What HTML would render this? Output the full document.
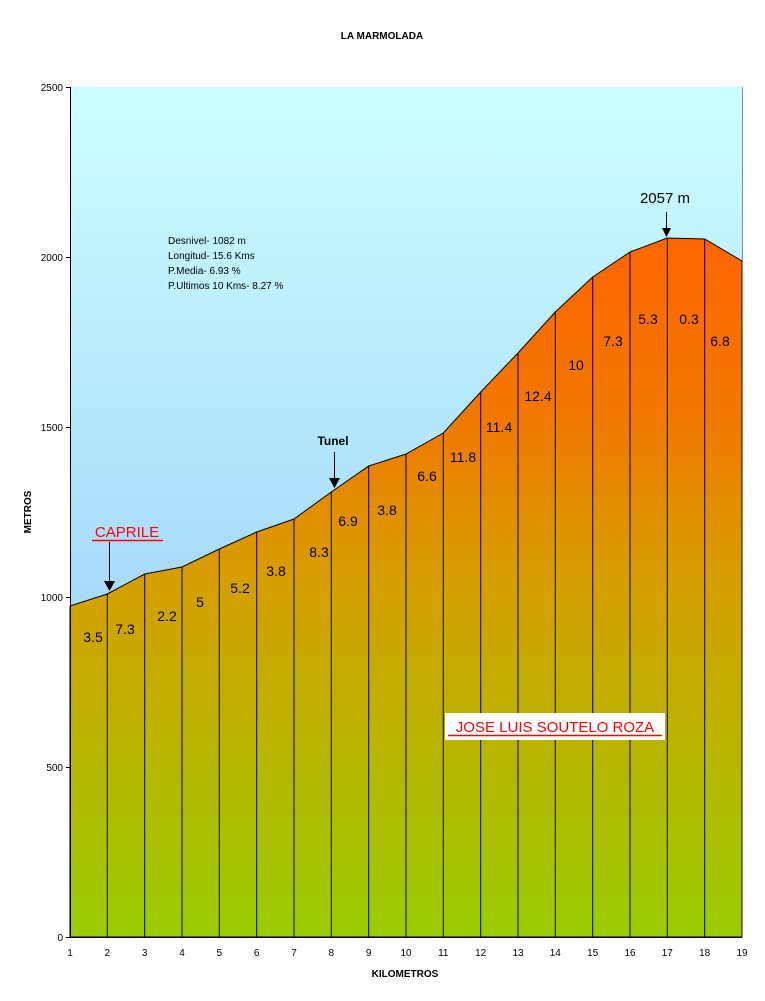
<!DOCTYPE html>
<html><head><meta charset="utf-8"><style>
body{margin:0;background:#fff}
svg{display:block;font-family:"Liberation Sans",Arial,sans-serif}
</style></head><body>
<svg width="765" height="1001" viewBox="0 0 765 1001" xmlns="http://www.w3.org/2000/svg">
<defs>
<linearGradient id="bg" x1="0" y1="87" x2="0" y2="937" gradientUnits="userSpaceOnUse">
<stop offset="0" stop-color="#CCFFFF"/><stop offset="0.6" stop-color="#A8DAFA"/><stop offset="1" stop-color="#99CCFF"/>
</linearGradient>
<linearGradient id="fg" x1="0" y1="238" x2="0" y2="937" gradientUnits="userSpaceOnUse">
<stop offset="0" stop-color="#FF6600"/><stop offset="0.25" stop-color="#F27700"/><stop offset="0.5" stop-color="#D4A000"/><stop offset="1" stop-color="#99CC00"/>
</linearGradient>
</defs>
<rect width="765" height="1001" fill="#fff"/>
<rect x="70" y="87" width="672" height="850" fill="url(#bg)"/>
<polygon fill="url(#fg)" stroke="#000" stroke-width="1" points="70,937 70,606 107.3,594 144.7,574 182,567 219.3,549 256.7,532 294,519 331.3,492 368.7,466 406,454 443.3,433 480.7,392 518,353 555.3,312 592.7,277 630,252 667.3,238 704.7,239 742,261 742,937"/>
<g stroke="#000" stroke-width="1">
<line x1="107.3" y1="594" x2="107.3" y2="937"/><line x1="144.7" y1="574" x2="144.7" y2="937"/><line x1="182" y1="567" x2="182" y2="937"/><line x1="219.3" y1="549" x2="219.3" y2="937"/><line x1="256.7" y1="532" x2="256.7" y2="937"/><line x1="294" y1="519" x2="294" y2="937"/><line x1="331.3" y1="492" x2="331.3" y2="937"/><line x1="368.7" y1="466" x2="368.7" y2="937"/><line x1="406" y1="454" x2="406" y2="937"/><line x1="443.3" y1="433" x2="443.3" y2="937"/><line x1="480.7" y1="392" x2="480.7" y2="937"/><line x1="518" y1="353" x2="518" y2="937"/><line x1="555.3" y1="312" x2="555.3" y2="937"/><line x1="592.7" y1="277" x2="592.7" y2="937"/><line x1="630" y1="252" x2="630" y2="937"/><line x1="667.3" y1="238" x2="667.3" y2="937"/><line x1="704.7" y1="239" x2="704.7" y2="937"/>
</g>
<line x1="742.5" y1="87" x2="742.5" y2="937" stroke="#888"/>
<!-- axes -->
<g stroke="#000" stroke-width="1">
<line x1="70.5" y1="87" x2="70.5" y2="937.5"/><line x1="70" y1="937.5" x2="742" y2="937.5"/>
<line x1="66" y1="87.5" x2="70" y2="87.5"/><line x1="66" y1="257.5" x2="70" y2="257.5"/><line x1="66" y1="427.5" x2="70" y2="427.5"/><line x1="66" y1="597.5" x2="70" y2="597.5"/><line x1="66" y1="767.5" x2="70" y2="767.5"/><line x1="66" y1="937.5" x2="70" y2="937.5"/>
</g>
<g font-size="10" text-anchor="end">
<text x="63" y="91">2500</text><text x="63" y="261">2000</text><text x="63" y="431">1500</text><text x="63" y="601">1000</text><text x="63" y="771">500</text><text x="63" y="941">0</text>
</g>
<g font-size="10" text-anchor="middle">
<text x="70" y="956">1</text><text x="107.3" y="956">2</text><text x="144.7" y="956">3</text><text x="182" y="956">4</text><text x="219.3" y="956">5</text><text x="256.7" y="956">6</text><text x="294" y="956">7</text><text x="331.3" y="956">8</text><text x="368.7" y="956">9</text><text x="406" y="956">10</text><text x="443.3" y="956">11</text><text x="480.7" y="956">12</text><text x="518" y="956">13</text><text x="555.3" y="956">14</text><text x="592.7" y="956">15</text><text x="630" y="956">16</text><text x="667.3" y="956">17</text><text x="704.7" y="956">18</text><text x="742" y="956">19</text>
</g>
<text x="382" y="39" font-size="10" font-weight="bold" text-anchor="middle">LA MARMOLADA</text>
<text x="405" y="977" font-size="10" font-weight="bold" text-anchor="middle">KILOMETROS</text>
<text transform="translate(31,512) rotate(-90)" font-size="10" font-weight="bold" text-anchor="middle">METROS</text>
<g font-size="10">
<text x="168" y="244">Desnivel- 1082 m</text><text x="168" y="259">Longitud- 15.6 Kms</text><text x="168" y="274">P.Media- 6.93 %</text><text x="168" y="289">P.Ultimos 10 Kms- 8.27 %</text>
</g>
<g font-size="14" text-anchor="middle">
<text x="93" y="642">3.5</text><text x="125" y="634">7.3</text><text x="167" y="621">2.2</text><text x="200" y="607">5</text><text x="240" y="593">5.2</text><text x="276" y="576">3.8</text><text x="319" y="557">8.3</text><text x="348" y="526">6.9</text><text x="387" y="515">3.8</text><text x="427" y="481">6.6</text><text x="463" y="462">11.8</text><text x="499" y="432">11.4</text><text x="538" y="401">12.4</text><text x="576" y="370">10</text><text x="613" y="346">7.3</text><text x="648" y="324">5.3</text><text x="689" y="324">0.3</text><text x="720" y="346">6.8</text>
</g>
<!-- annotations -->
<text x="127" y="537" font-size="15" fill="#f00" text-anchor="middle">CAPRILE</text>
<line x1="92" y1="540.5" x2="163" y2="540.5" stroke="#f00" stroke-width="1.5"/>
<line x1="109.5" y1="542" x2="109.5" y2="582" stroke="#000"/>
<polygon points="104,581 115,581 109.5,591" fill="#000"/>
<text x="333" y="445" font-size="12" font-weight="bold" text-anchor="middle">Tunel</text>
<line x1="334.5" y1="452" x2="334.5" y2="478" stroke="#000"/>
<polygon points="329,478 340,478 334.5,488" fill="#000"/>
<text x="665" y="203" font-size="15" text-anchor="middle">2057 m</text>
<line x1="666.5" y1="212" x2="666.5" y2="229" stroke="#000"/>
<polygon points="662,228 671,228 666.5,237" fill="#000"/>
<rect x="445" y="713" width="220" height="27" fill="#fff"/>
<text x="555" y="732" font-size="15" fill="#f00" text-anchor="middle">JOSE LUIS SOUTELO ROZA</text>
<line x1="448" y1="735.5" x2="662" y2="735.5" stroke="#f00" stroke-width="1.5"/>
</svg>
</body></html>
